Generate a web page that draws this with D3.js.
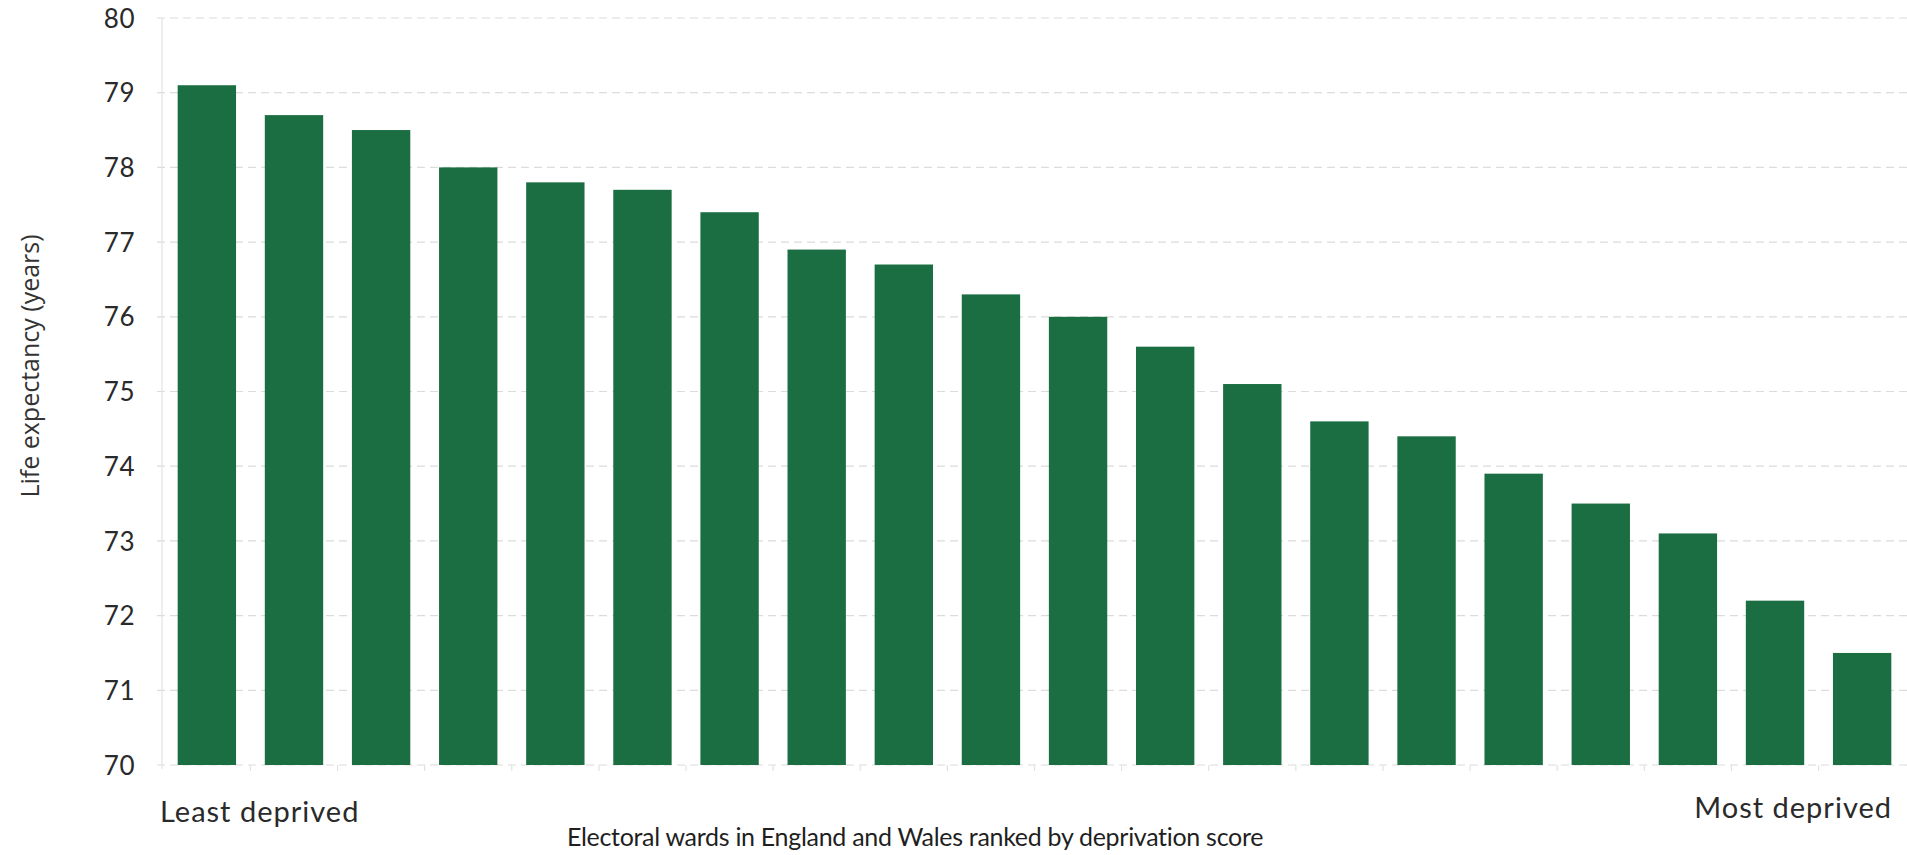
<!DOCTYPE html>
<html>
<head>
<meta charset="utf-8">
<script src="https://cdn.jsdelivr.net/npm/d3@7"></script>
<style>
  html, body { margin: 0; padding: 0; background: #ffffff; }
  svg { display: block; }
</style>
</head>
<body>
<svg id="chart" width="1907" height="855"></svg>
<script>
// ---- data ----
const wards = d3.range(1, 21).map(String);
const lifeExpectancy = [79.1, 78.7, 78.5, 78.0, 77.8, 77.7, 77.4, 76.9, 76.7, 76.3,
                        76.0, 75.6, 75.1, 74.6, 74.4, 73.9, 73.5, 73.1, 72.2, 71.5];
const yTicks = [70, 71, 72, 73, 74, 75, 76, 77, 78, 79, 80];
const yTitle = "Life expectancy (years)";
const xTitle = "Electoral wards in England and Wales ranked by deprivation score";
const leftLabel = "Least deprived";
const rightLabel = "Most deprived";

// ---- layout ----
const svg = d3.select("#chart");
const plotLeft = 162, plotRight = 1907, plotTop = 18, plotBottom = 765;
const gillFont = "Lato, 'Open Sans', sans-serif";

const x = d3.scaleBand().domain(wards).range([plotLeft, plotRight]).paddingInner(0.33).paddingOuter(0.18);
const y = d3.scaleLinear().domain([70, 80]).range([plotBottom, plotTop]);

// gridlines
svg.append("g").selectAll("line").data(yTicks).join("line")
  .attr("x1", plotLeft - 5).attr("x2", plotRight)
  .attr("y1", d => y(d)).attr("y2", d => y(d))
  .attr("stroke", "#dcdcdc").attr("stroke-width", 1.2)
  .attr("stroke-dasharray", "8,5");

// vertical axis line
svg.append("line")
  .attr("x1", plotLeft).attr("x2", plotLeft).attr("y1", plotTop).attr("y2", plotBottom + 4)
  .attr("stroke", "#e2e2e2").attr("stroke-width", 1.2);

// small category ticks at band boundaries
const boundaries = wards.slice(1).map(w => x(w) - x.step() * x.paddingInner() / 2);
svg.append("g").selectAll("line").data(boundaries).join("line")
  .attr("x1", d => d).attr("x2", d => d)
  .attr("y1", plotBottom).attr("y2", plotBottom + 6)
  .attr("stroke", "#e2e2e2").attr("stroke-width", 1.2);

// bars
svg.append("g").selectAll("rect").data(lifeExpectancy).join("rect")
  .attr("x", (d, i) => x(wards[i]))
  .attr("width", x.bandwidth())
  .attr("y", d => y(d))
  .attr("height", d => y(70) - y(d))
  .attr("fill", "#1b6e41");

// y tick labels
const yAxis = d3.axisLeft(y).tickValues(yTicks).tickSize(0).tickPadding(0).tickFormat(d3.format("d"));
const yg = svg.append("g").attr("transform", `translate(135,0)`).call(yAxis);
yg.select(".domain").remove();
yg.selectAll("text")
  .attr("font-family", gillFont).attr("font-size", 26).attr("fill", "#2a2a2a")
  .attr("letter-spacing", 0.5)
  .attr("dy", "0.35em");

// y title
svg.append("text")
  .attr("transform", "translate(39,366) rotate(-90)")
  .attr("text-anchor", "middle")
  .attr("font-family", "'Open Sans', 'Noto Sans', sans-serif")
  .attr("font-size", 25).attr("fill", "#333")
  .text(yTitle);

// end labels
svg.append("text")
  .attr("x", 160).attr("y", 822)
  .attr("font-family", gillFont).attr("font-size", 29).attr("letter-spacing", 1)
  .attr("fill", "#2a2a2a")
  .text(leftLabel);
svg.append("text")
  .attr("x", 1892).attr("y", 818).attr("text-anchor", "end")
  .attr("font-family", gillFont).attr("font-size", 29).attr("letter-spacing", 1)
  .attr("fill", "#2a2a2a")
  .text(rightLabel);

// x title
svg.append("text")
  .attr("x", 915).attr("y", 846).attr("text-anchor", "middle")
  .attr("font-family", gillFont).attr("font-size", 25).attr("letter-spacing", -0.3)
  .attr("fill", "#1f1f1f")
  .text(xTitle);
</script>
</body>
</html>
